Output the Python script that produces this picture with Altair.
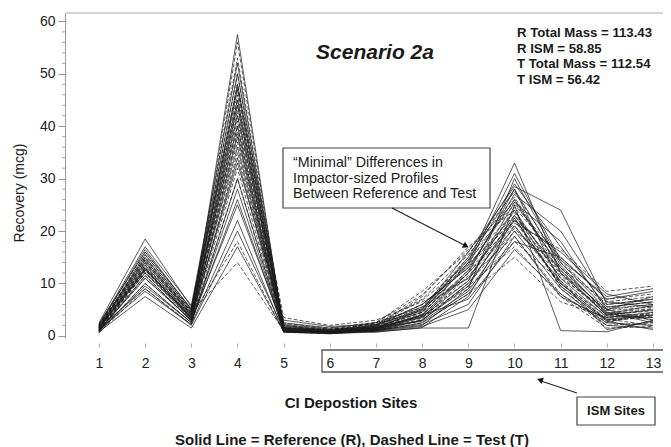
import altair as alt
import pandas as pd

# ---------------- data ----------------
sites = [1, 2, 3, 4, 5, 6, 7, 8, 9, 10, 11, 12, 13]
y_major = [0, 10, 20, 30, 40, 50, 60]
y_minor = [2, 4, 6, 8, 12, 14, 16, 18, 22, 24, 26, 28, 32, 34, 36, 38,
           42, 44, 46, 48, 52, 54, 56, 58]

# Reference (solid) profiles, recovery (mcg) at sites 1..13
ref_profiles = [
    [1.2, 13.5, 3.5, 57.5, 1.0, 0.8, 1.2, 3.5, 12.0, 28.0, 10.0, 3.0, 4.0],
    [2.5, 18.5, 5.5, 45.0, 2.0, 1.0, 1.5, 4.0, 14.0, 33.0, 12.0, 4.0, 5.0],
    [0.8, 7.5, 1.5, 17.0, 0.8, 0.5, 1.0, 2.0, 9.0, 30.0, 14.0, 5.0, 3.0],
    [1.5, 9.0, 2.0, 20.0, 1.2, 0.7, 1.5, 5.0, 16.0, 28.5, 24.0, 6.0, 7.0],
    [1.0, 11.0, 3.0, 25.0, 1.5, 1.0, 0.8, 1.5, 1.5, 25.0, 1.0, 0.8, 3.0],
    [1.8, 15.0, 4.5, 40.0, 0.8, 0.6, 1.2, 3.0, 10.0, 22.0, 16.0, 8.0, 6.0],
    [2.0, 16.5, 5.0, 48.0, 1.5, 0.9, 2.0, 6.0, 13.0, 26.0, 13.0, 4.5, 2.5],
    [0.6, 10.0, 2.5, 30.0, 1.0, 0.5, 1.0, 2.5, 8.0, 20.0, 9.0, 2.0, 1.5],
    [1.3, 14.0, 4.0, 42.0, 2.5, 1.5, 2.5, 5.5, 11.0, 24.0, 11.0, 3.5, 4.5],
    [1.7, 12.5, 3.8, 36.0, 1.2, 0.8, 1.3, 4.0, 7.0, 18.0, 15.0, 7.0, 8.5],
    [1.1, 8.5, 2.2, 22.0, 0.7, 0.4, 0.9, 1.8, 5.0, 16.5, 8.0, 2.5, 2.0],
    [2.2, 17.0, 5.8, 52.0, 1.8, 1.2, 1.8, 4.5, 15.0, 29.0, 17.0, 5.5, 6.5],
    [1.4, 13.0, 3.2, 38.0, 1.0, 0.6, 1.0, 3.0, 9.5, 23.0, 12.5, 3.8, 3.5],
    [0.9, 11.5, 2.8, 28.0, 0.9, 0.7, 1.4, 3.8, 12.5, 27.0, 20.0, 6.5, 5.5],
    [1.6, 14.5, 4.2, 44.0, 1.4, 0.9, 1.6, 2.8, 8.5, 21.0, 10.5, 1.2, 2.8],
    [1.9, 12.0, 3.6, 33.0, 3.0, 1.8, 2.2, 4.8, 13.5, 31.0, 14.5, 7.5, 9.0],
    [1.0, 9.5, 2.6, 26.0, 1.1, 0.8, 1.1, 2.2, 6.0, 19.0, 7.5, 3.2, 4.0],
    [1.5, 15.5, 4.8, 47.0, 1.6, 1.1, 1.7, 3.6, 10.5, 25.5, 18.0, 5.0, 7.5],
    [0.7, 12.8, 3.3, 34.0, 0.8, 0.5, 0.7, 1.6, 7.5, 22.5, 9.5, 2.8, 1.2],
    [2.3, 16.0, 5.2, 50.0, 2.2, 1.3, 2.0, 5.2, 14.5, 28.0, 13.5, 4.2, 5.8],
]

# Test (dashed) profiles
test_profiles = [
    [1.0, 12.0, 3.0, 56.0, 1.2, 0.8, 1.5, 5.0, 14.0, 26.0, 12.0, 4.0, 5.0],
    [2.0, 15.0, 4.5, 14.0, 1.0, 0.6, 1.2, 4.0, 12.0, 22.0, 10.0, 3.0, 3.5],
    [1.5, 13.5, 3.8, 18.0, 0.8, 0.7, 2.0, 7.5, 17.0, 24.0, 9.0, 2.5, 4.5],
    [1.2, 11.0, 3.0, 44.0, 1.5, 1.0, 2.5, 8.5, 16.0, 27.5, 14.0, 6.0, 7.0],
    [2.2, 16.0, 5.0, 53.0, 2.0, 1.3, 2.2, 6.0, 13.5, 23.0, 11.0, 5.0, 6.0],
    [0.8, 10.0, 2.5, 35.0, 0.9, 0.6, 1.0, 3.0, 10.0, 20.0, 13.0, 4.5, 3.0],
    [1.8, 14.0, 4.2, 40.0, 1.3, 0.9, 1.8, 5.5, 15.0, 25.0, 15.0, 7.0, 8.0],
    [1.4, 13.0, 3.5, 48.0, 3.5, 2.0, 3.0, 6.5, 11.0, 19.0, 8.0, 2.0, 2.5],
    [0.6, 9.0, 2.2, 30.0, 0.7, 0.5, 0.9, 2.5, 8.0, 15.0, 6.5, 3.5, 4.0],
    [1.7, 14.5, 4.0, 42.0, 1.1, 0.8, 1.6, 4.5, 12.5, 21.5, 16.5, 8.5, 9.5],
    [1.1, 12.5, 3.3, 37.0, 1.0, 0.7, 1.3, 3.5, 9.0, 18.0, 10.5, 3.2, 2.0],
    [1.9, 15.5, 4.8, 50.0, 1.7, 1.1, 2.4, 7.0, 15.5, 26.5, 12.5, 4.8, 5.5],
    [1.3, 12.8, 3.6, 45.0, 1.4, 1.0, 1.9, 6.0, 13.0, 22.5, 9.5, 2.8, 3.8],
    [1.6, 13.8, 4.1, 38.5, 1.2, 0.9, 1.4, 4.2, 10.5, 24.5, 14.5, 5.5, 6.5],
    [0.9, 11.5, 2.9, 32.0, 0.8, 0.6, 1.1, 3.2, 11.5, 20.5, 11.5, 4.0, 4.8],
    [2.1, 14.2, 4.6, 46.0, 2.4, 1.5, 2.6, 7.8, 16.5, 25.5, 13.0, 6.5, 7.5],
    [1.0, 12.2, 3.1, 39.0, 1.0, 0.7, 1.2, 3.8, 9.5, 17.0, 7.5, 1.5, 1.8],
    [1.5, 13.2, 3.9, 43.0, 1.3, 0.8, 1.7, 5.2, 14.5, 23.5, 12.0, 5.2, 6.0],
    [1.2, 12.6, 3.4, 41.0, 1.1, 0.7, 1.5, 4.6, 12.0, 21.0, 10.0, 3.8, 4.2],
    [1.8, 14.8, 4.4, 47.5, 1.6, 1.0, 2.1, 6.8, 13.8, 22.0, 11.8, 4.4, 5.2],
]

stats_lines = ["R Total Mass = 113.43", "R ISM = 58.85",
               "T Total Mass = 112.54", "T ISM = 56.42"]
title_text = "Scenario 2a"
note_lines = ["\u201cMinimal\u201d Differences in", "Impactor-sized Profiles",
              "Between Reference and Test"]
ism_label = "ISM Sites"
x_title = "CI Depostion Sites"
y_title = "Recovery (mcg)"
bottom_note = "Solid Line = Reference (R), Dashed Line = Test (T)"

# ---------------- build tables ----------------
def to_long(profiles, prefix):
    rows = []
    for i, prof in enumerate(profiles):
        for s, v in zip(sites, prof):
            rows.append({"site": s, "rec": v, "run": f"{prefix}{i}"})
    return pd.DataFrame(rows)

df_ref = to_long(ref_profiles, "R")
df_test = to_long(test_profiles, "T")
df_minor = pd.DataFrame({"v": y_minor})

FONT = "Liberation Sans"
W, H = 598, 325

xscale = alt.Scale(domain=[0.264, 13.217], nice=False, zero=False)
yscale = alt.Scale(domain=[-0.4, 61.6], nice=False, zero=False)

x_enc = alt.X("site:Q", scale=xscale,
              axis=alt.Axis(values=sites, title=None, domain=False, grid=False,
                            offset=5, tickSize=4, tickColor="#aaaaaa",
                            labelFont=FONT, labelFontSize=14, labelColor="#222222",
                            labelPadding=9, format="d"))
y_enc = alt.Y("rec:Q", scale=yscale,
              axis=alt.Axis(values=y_major, title=None, grid=False,
                            domainColor="#999999", tickColor="#999999", tickSize=7,
                            labelFont=FONT, labelFontSize=14, labelColor="#222222",
                            labelPadding=3, format="d"))

ref_lines = alt.Chart(df_ref).mark_line(
    color="#1a1a1a", strokeWidth=0.85, opacity=0.85
).encode(x=x_enc, y=y_enc, detail="run:N")

test_lines = alt.Chart(df_test).mark_line(
    color="#1a1a1a", strokeWidth=0.85, opacity=0.85, strokeDash=[4, 2]
).encode(x=alt.X("site:Q", scale=xscale), y=alt.Y("rec:Q", scale=yscale),
         detail="run:N")

minor_ticks = alt.Chart(df_minor).mark_rule(color="#aaaaaa", strokeWidth=1).encode(
    x=alt.value(-3), x2=alt.value(0), y=alt.Y("v:Q", scale=yscale))

one = pd.DataFrame({"k": [0]})

def text_at(txt, x, y, size=13, weight="normal", style="normal", align="left",
            angle=0, line_height=None):
    kw = dict(font=FONT, fontSize=size, fontWeight=weight, fontStyle=style,
              align=align, baseline="middle", color="#1a1a1a")
    if angle:
        kw["angle"] = angle
    if line_height:
        kw["lineHeight"] = line_height
    return alt.Chart(one).mark_text(**kw).encode(
        x=alt.value(x), y=alt.value(y), text=alt.value(txt))

def box(x1, y1, x2, y2, sw=1.2):
    return alt.Chart(one).mark_rect(fill="white", fillOpacity=0, stroke="#444444",
                                    strokeWidth=sw).encode(
        x=alt.value(x1), x2=alt.value(x2), y=alt.value(y1), y2=alt.value(y2))

def seg(x1, y1, x2, y2, sw=1.2):
    return alt.Chart(one).mark_rule(color="#222222", strokeWidth=sw).encode(
        x=alt.value(x1), x2=alt.value(x2), y=alt.value(y1), y2=alt.value(y2))

def head(x, y, ang):
    return alt.Chart(one).mark_point(shape="triangle-right", filled=True,
                                     color="#111111", size=45, angle=ang,
                                     opacity=1).encode(
        x=alt.value(x), y=alt.value(y))

top_border = alt.Chart(one).mark_rule(color="#aaaaaa", strokeWidth=1).encode(
    x=alt.value(0), x2=alt.value(W), y=alt.value(0), y2=alt.value(0))

ism_axis_box = alt.Chart(one).mark_rect(fill="white", fillOpacity=0, stroke="#555555",
                                        strokeWidth=1.3).encode(
    x=alt.value(257), x2=alt.value(W + 20), y=alt.value(337), y2=alt.value(359))

layers = [
    ref_lines, test_lines, minor_ticks, top_border,
    text_at(title_text, 310, 40, size=21, weight="bold", style="italic", align="center"),
    text_at(stats_lines, 452, 20, size=13.2, weight="bold", line_height=15.5),
    box(218, 135, 425, 195),
    text_at(note_lines, 228, 150, size=14.3, line_height=15.5),
    seg(327, 195, 401, 233),
    head(401, 233, 27),
    ism_axis_box,
    box(512, 384, 590, 412),
    text_at(ism_label, 551, 398, size=13, weight="bold", align="center"),
    seg(512, 380, 476, 368),
    head(475, 367, 198),
    text_at(x_title, 286, 390, size=15, weight="bold", align="center"),
    text_at(bottom_note, 287, 427, size=15, weight="bold", align="center"),
    text_at(y_title, -45, 180, size=14, align="center", angle=270),
]

chart = alt.layer(*layers).properties(
    width=W, height=H,
    autosize=alt.AutoSizeParams(type="none"),
    padding={"left": 57, "top": 5, "right": 0, "bottom": 109},
    background="white",
).configure_view(strokeWidth=0)

chart.save("out.html", embed_options={"renderer": "svg", "actions": False})
